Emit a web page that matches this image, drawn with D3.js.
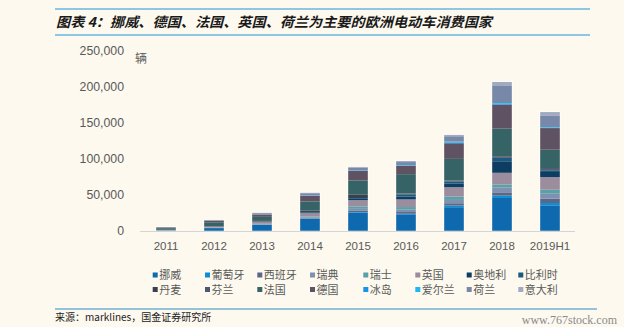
<!DOCTYPE html>
<html><head><meta charset="utf-8">
<script src="https://cdn.jsdelivr.net/npm/d3@7"></script>
<style>
html,body{margin:0;padding:0;background:#fdf9ef;}
svg{display:block;}
</style></head>
<body>
<svg id="c" width="624" height="327"></svg>
<script>
const categories = ["2011","2012","2013","2014","2015","2016","2017","2018","2019H1"];
const seriesNames = ["挪威","葡萄牙","西班牙","瑞典","瑞士","英国","奥地利","比利时","丹麦","芬兰","法国","德国","冰岛","爱尔兰","荷兰","意大利"];
const norway   = [500, 4000, 8500, 17100, 25600, 23100, 33000, 45800, 35600];
const portugal = [0, 0, 100, 200, 700, 800, 2300, 3200, 3200];
const spain    = [100, 200, 300, 500, 1600, 2400, 3200, 4600, 6000];
const sweden   = [100, 300, 600, 1200, 2800, 3200, 4600, 6900, 6900];
const swiss    = [100, 300, 500, 1100, 3300, 3700, 4600, 4000, 5500];
const uk       = [400, 1200, 2600, 4600, 8800, 10600, 13000, 16200, 17600];
const austria  = [100, 200, 500, 1200, 1600, 4000, 5300, 16000, 7000];
const belgium  = [100, 200, 300, 500, 1200, 2900, 2500, 5000, 2300];
const denmark  = [300, 400, 500, 1500, 4400, 1000, 700, 1200, 1600];
const finland  = [0, 100, 100, 200, 200, 300, 800, 1100, 1600];
const france   = [2200, 5200, 5600, 12900, 19900, 26800, 30000, 37900, 25400];
const germany  = [1100, 2300, 3300, 7900, 13400, 11600, 21700, 33300, 30000];
const iceland  = [0, 0, 100, 300, 400, 600, 1200, 1200, 700];
const ireland  = [0, 100, 100, 200, 300, 400, 1100, 1100, 700];
const netherlands = [200, 400, 1600, 3000, 3700, 4200, 7400, 24500, 16200];
const italy    = [100, 500, 600, 700, 1000, 1500, 1900, 4600, 4600];
const yTicks = [0, 50000, 100000, 150000, 200000, 250000];

const seriesValues = [norway, portugal, spain, sweden, swiss, uk, austria, belgium, denmark, finland, france, germany, iceland, ireland, netherlands, italy];
const colors = ["#0f69ae","#0b8fd2","#5b6788","#8090b0","#5aa0a8","#9b8d9d","#0d3d62","#1b5a80","#3a3e4e","#4d5771","#366466","#5f5262","#1396e8","#1ab9f6","#7888a8","#a1a9c3"];

const svg = d3.select("#c");
const font = "'Liberation Sans','Noto Sans CJK SC',sans-serif";
const cjk = "'Noto Sans CJK SC','Liberation Sans',sans-serif";

// header / footer rules
svg.append("line").attr("x1",55).attr("x2",590).attr("y1",9).attr("y2",9).attr("stroke","#1e95d8").attr("stroke-width",1);
svg.append("line").attr("x1",55).attr("x2",590).attr("y1",35).attr("y2",35).attr("stroke","#1e95d8").attr("stroke-width",1);
svg.append("text").attr("x",56).attr("y",27)
  .attr("font-family",cjk).attr("font-size",13.5).attr("font-weight","bold").attr("font-style","italic")
  .attr("fill","#1a1a1a").attr("textLength",436).attr("lengthAdjust","spacingAndGlyphs")
  .text("图表 4：挪威、德国、法国、英国、荷兰为主要的欧洲电动车消费国家");

svg.append("line").attr("x1",55).attr("x2",597).attr("y1",309).attr("y2",309).attr("stroke","#2a8cc4").attr("stroke-width",1);
svg.append("text").attr("x",55).attr("y",321).attr("font-family",cjk).attr("font-size",10).attr("fill","#222")
  .text("来源：marklines，国金证券研究所");
svg.append("text").attr("x",617).attr("y",324).attr("text-anchor","end").attr("font-family","'Liberation Serif','DejaVu Serif',serif")
  .attr("font-size",12).attr("fill","#8a8a8a").text("www.767stock.com");

// scales
const x = d3.scaleBand().domain(categories).range([142,574]).paddingInner(0.59).paddingOuter(0.295);
const y = d3.scaleLinear().domain([0,250000]).range([231,50.7]);

// data table for stack
const table = categories.map((c,i)=>{
  const row = {cat:c};
  seriesNames.forEach((s,j)=>row[s]=seriesValues[j][i]);
  return row;
});
const stacked = d3.stack().keys(seriesNames)(table);

// y axis labels
const yAxis = d3.axisLeft(y).tickValues(yTicks).tickSize(0).tickPadding(0).tickFormat(d3.format(","));
const ga = svg.append("g").attr("transform","translate(124,0)").call(yAxis);
ga.select(".domain").remove();
ga.selectAll("text").attr("font-family",font).attr("font-size",12.3).attr("fill","#595959");

svg.append("text").attr("x",135).attr("y",63).attr("font-family",cjk).attr("font-size",12).attr("fill","#595959").text("辆");

// bars
svg.append("g").selectAll("g").data(stacked).join("g")
  .attr("fill",(d,i)=>colors[i])
  .selectAll("rect").data(d=>d).join("rect")
  .attr("x",d=>x(d.data.cat))
  .attr("width",x.bandwidth())
  .attr("y",d=>y(d[1]))
  .attr("height",d=>Math.max(0,y(d[0])-y(d[1])));

// outline of each bar
svg.append("g").selectAll("rect").data(table).join("rect")
  .attr("x",d=>x(d.cat)-0.5).attr("width",x.bandwidth()+1)
  .attr("y",(d,i)=>y(stacked[stacked.length-1][i][1])-0.5)
  .attr("height",(d,i)=>231-y(stacked[stacked.length-1][i][1])+0.5)
  .attr("fill","none").attr("stroke","#ffffff").attr("stroke-opacity",0.6).attr("stroke-width",0.8);

// x axis
const xAxis = d3.axisBottom(x).tickSize(0).tickPadding(11);
const gx = svg.append("g").attr("transform","translate(0,231)").call(xAxis);
gx.select(".domain").attr("stroke","#d4d4d4").attr("d","M140,0.5H575");
gx.selectAll("text").attr("font-family",font).attr("font-size",11.5).attr("fill","#595959");

// legend
const legX = [152.7,205,257.3,310,363.3,415.3,466.7,518.3];
const legY = [275,289.5];
const lg = svg.append("g").selectAll("g").data(seriesNames).join("g")
  .attr("transform",(d,i)=>`translate(${legX[i%8]},${legY[Math.floor(i/8)]})`);
lg.append("rect").attr("x",0).attr("y",-2.5).attr("width",5).attr("height",5).attr("fill",(d,i)=>colors[i]);
lg.append("text").attr("x",6.5).attr("y",4).attr("font-family",cjk).attr("font-size",11).attr("fill","#595959").text(d=>d);
</script>
</body></html>
